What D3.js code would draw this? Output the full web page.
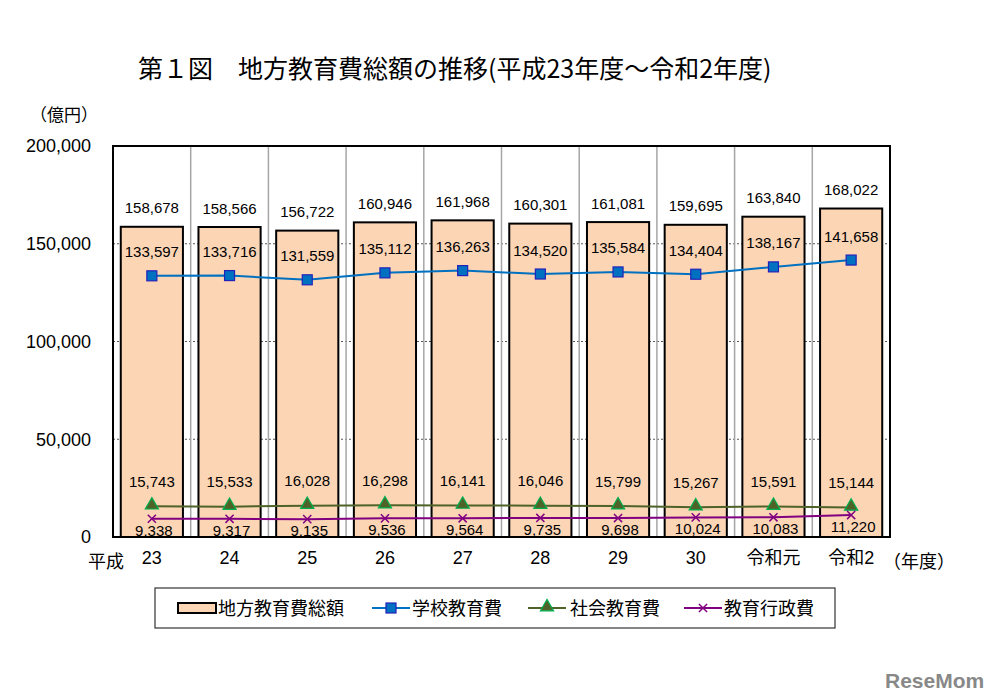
<!DOCTYPE html>
<html><head><meta charset="utf-8">
<script src="https://cdn.jsdelivr.net/npm/d3@7"></script>
<style>
body{margin:0;background:#fff;}
text{font-family:"Liberation Sans","Noto Sans CJK JP",sans-serif;fill:#000;}
</style></head>
<body><svg id="c" width="992" height="700"></svg>
<script>
const categories = ["23","24","25","26","27","28","29","30","令和元","令和2"];
const totalValues = [158678,158566,156722,160946,161968,160301,161081,159695,163840,168022];
const schoolValues = [133597,133716,131559,135112,136263,134520,135584,134404,138167,141658];
const socialValues = [15743,15533,16028,16298,16141,16046,15799,15267,15591,15144];
const adminValues = [9338,9317,9135,9536,9564,9735,9698,10024,10083,11220];
const yTicks = [0,50000,100000,150000,200000];
const seriesNames = ["地方教育費総額","学校教育費","社会教育費","教育行政費"];

const svg = d3.select("#c");
const L=113,R=890,T=146,B=537;
const x = d3.scaleBand().domain(categories).range([L,R]).paddingInner(0.2).paddingOuter(0.1);
const xb = d3.scaleBand().domain(categories).range([L,R]);
const y = d3.scaleLinear().domain([0,200000]).range([B,T]);
const fmt = d3.format(",");
const cx = d => xb(d)+xb.bandwidth()/2;

// title
svg.append("text").attr("x",138).attr("y",78).style("font-size","25px")
  .style("font-family","'Noto Sans CJK JP',sans-serif")
  .text("第１図　地方教育費総額の推移(平成23年度～令和2年度)");
svg.append("text").attr("x",30).attr("y",121).style("font-size","17px")
  .style("font-family","'Noto Sans CJK JP',sans-serif").text("（億円）");

// gridlines horizontal dotted
svg.append("g").selectAll("line").data(yTicks.filter(v=>v>0&&v<200000)).join("line")
  .attr("x1",L).attr("x2",R).attr("y1",d=>y(d)).attr("y2",d=>y(d))
  .attr("stroke","#555").attr("stroke-width",1).attr("stroke-dasharray","2,2");
// vertical category separators
svg.append("g").selectAll("line").data(categories.slice(1)).join("line")
  .attr("x1",d=>xb(d)).attr("x2",d=>xb(d)).attr("y1",T).attr("y2",B)
  .attr("stroke","#a6a6a6").attr("stroke-width",1.5);

// bars
svg.append("g").selectAll("rect").data(categories).join("rect")
  .attr("x",d=>x(d)).attr("width",x.bandwidth())
  .attr("y",(d,i)=>y(totalValues[i])).attr("height",(d,i)=>B-y(totalValues[i]))
  .attr("fill","#fcd5b5").attr("stroke","#000").attr("stroke-width",2);

// frame
svg.append("rect").attr("x",L).attr("y",T).attr("width",R-L).attr("height",B-T)
  .attr("fill","none").attr("stroke","#000").attr("stroke-width",2);

// y axis labels
const yAxis = d3.axisLeft(y).tickValues(yTicks).tickFormat(fmt).tickSize(0).tickPadding(22);
const ya = svg.append("g").attr("transform",`translate(${L},0)`).call(yAxis);
ya.select(".domain").remove();
ya.attr("font-size",18).attr("font-family","'Liberation Sans',sans-serif");
ya.selectAll("text").style("font-size","18px").attr("fill","#000");

// x axis labels
const xAxis = d3.axisBottom(xb).tickSize(0).tickPadding(14);
const xa = svg.append("g").attr("transform",`translate(0,${B})`).call(xAxis);
xa.select(".domain").remove();
xa.attr("font-size",18).attr("font-family","'Liberation Sans','Noto Sans CJK JP',sans-serif");
xa.selectAll("text").style("font-size","18px").attr("fill","#000");
svg.append("text").attr("x",106).attr("y",568).attr("text-anchor","middle")
  .style("font-size","18px").style("font-family","'Noto Sans CJK JP',sans-serif").text("平成");
svg.append("text").attr("x",883).attr("y",568)
  .style("font-size","18px").style("font-family","'Noto Sans CJK JP',sans-serif").text("（年度）");

// lines
const line = vals => d3.line().x((d,i)=>cx(categories[i])).y(d=>y(d))(vals);
svg.append("path").attr("d",line(socialValues)).attr("fill","none").attr("stroke","#4f6228").attr("stroke-width",2);
svg.append("path").attr("d",line(adminValues)).attr("fill","none").attr("stroke","#800080").attr("stroke-width",2);
svg.append("path").attr("d",line(schoolValues)).attr("fill","none").attr("stroke","#0070c0").attr("stroke-width",2);

// markers
svg.append("g").selectAll("rect").data(schoolValues).join("rect")
  .attr("x",(d,i)=>cx(categories[i])-5).attr("y",d=>y(d)-5).attr("width",10).attr("height",10)
  .attr("fill","#0070c0").attr("stroke","#2222bb").attr("stroke-width",1.2);
const tri = d3.symbol().type(d3.symbolTriangle).size(75);
svg.append("g").selectAll("path").data(socialValues).join("path")
  .attr("transform",(d,i)=>`translate(${cx(categories[i])},${y(d)-1})`).attr("d",tri)
  .attr("fill","#4f6228").attr("stroke","#00b050").attr("stroke-width",1.2);
const cross = d3.symbol().type(d3.symbolX).size(45);
svg.append("g").selectAll("path").data(adminValues).join("path")
  .attr("transform",(d,i)=>`translate(${cx(categories[i])},${y(d)})`).attr("d",cross)
  .attr("fill","none").attr("stroke","#800080").attr("stroke-width",1.5);

// data labels
function labels(vals,dy,dx){
  svg.append("g").selectAll("text").data(vals).join("text")
    .attr("x",(d,i)=>cx(categories[i])+(dx||0)).attr("y",d=>y(d)+dy)
    .attr("text-anchor","middle").style("font-size","15px").text(d=>fmt(d));
}
labels(totalValues,-13.5);
labels(schoolValues,-18.5);
labels(socialValues,-19.5);
labels(adminValues,17,2);

// legend
const lg = svg.append("g");
lg.append("rect").attr("x",155).attr("y",588).attr("width",680).attr("height",40)
  .attr("fill","#fff").attr("stroke","#333").attr("stroke-width",1.2);
const ly=608;
lg.append("rect").attr("x",178).attr("y",ly-5).attr("width",38).attr("height",10)
  .attr("fill","#fcd5b5").attr("stroke","#000").attr("stroke-width",2);
const lineItems = [
  {x:372,color:"#0070c0"},{x:528,color:"#4f6228"},{x:684,color:"#800080"}
];
lineItems.forEach(it=>lg.append("line").attr("x1",it.x).attr("x2",it.x+38).attr("y1",ly).attr("y2",ly)
  .attr("stroke",it.color).attr("stroke-width",2));
lg.append("rect").attr("x",391-5).attr("y",ly-5).attr("width",10).attr("height",10)
  .attr("fill","#0070c0").attr("stroke","#2222bb").attr("stroke-width",1.2);
lg.append("path").attr("transform",`translate(547,${ly-1})`).attr("d",tri)
  .attr("fill","#4f6228").attr("stroke","#00b050").attr("stroke-width",1.2);
lg.append("path").attr("transform",`translate(703,${ly})`).attr("d",cross)
  .attr("fill","none").attr("stroke","#800080").attr("stroke-width",1.5);
const textX=[218,412,570,724];
seriesNames.forEach((n,i)=>lg.append("text").attr("x",textX[i]).attr("y",ly+6.5)
  .style("font-size","18px").style("font-family","'Noto Sans CJK JP',sans-serif").text(n));

// watermark
svg.append("text").attr("x",885).attr("y",688).style("font-size","21px").style("font-weight","bold")
  .style("font-family","'Liberation Sans',sans-serif").style("fill","#888").text("ReseMom");
</script></body></html>
